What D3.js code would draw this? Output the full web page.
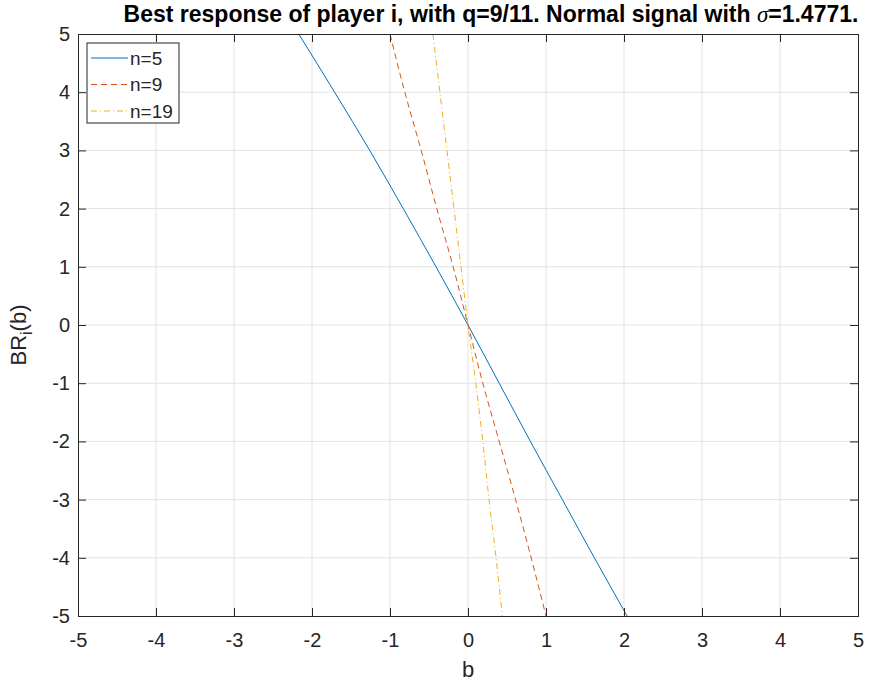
<!DOCTYPE html>
<html>
<head>
<meta charset="utf-8">
<script src="https://cdn.jsdelivr.net/npm/d3@7"></script>
<style>
  body { margin: 0; background: #fff; }
  text { font-family: "Liberation Sans", Arial, sans-serif; fill: #262626; }
</style>
</head>
<body>
<svg id="chart"></svg>
<script>
// Best response curves: BR level -> b position
const brLevels = [5, 4, 3, 2, 1, 0, -1, -2, -3, -4, -5];
const bN5  = [-2.17, -1.71, -1.26, -0.83, -0.41, 0, 0.40, 0.80, 1.21, 1.62, 2.04];
const bN9  = [-1.00, -0.81, -0.60, -0.40, -0.19, 0, 0.19, 0.40, 0.61, 0.81, 1.00];
const bN19 = [-0.45, -0.36, -0.27, -0.18, -0.09, 0, 0.10, 0.19, 0.27, 0.36, 0.44];
const seriesNames = ['n=5', 'n=9', 'n=19'];
const xTicks = [-5, -4, -3, -2, -1, 0, 1, 2, 3, 4, 5];
const yTicks = [-5, -4, -3, -2, -1, 0, 1, 2, 3, 4, 5];

const config = {
  width: 870, height: 682,
  margin: {top: 34, right: 12, bottom: 66, left: 78},
  colors: ['#0072BD', '#D95319', '#EDB120'],
  dashes: [null, '6,4', '6,3,1,3']
};

const series = [bN5, bN9, bN19].map((bs, i) => ({
  name: seriesNames[i],
  values: bs.map((b, j) => ({b: b, br: brLevels[j]}))
}));

const svg = d3.select('#chart')
    .attr('width', config.width)
    .attr('height', config.height);

const w = config.width - config.margin.left - config.margin.right;
const h = config.height - config.margin.top - config.margin.bottom;

const chart = svg.append('g')
    .attr('transform', `translate(${config.margin.left},${config.margin.top})`);

const xScale = d3.scaleLinear().domain([-5, 5]).range([0, w]);
const yScale = d3.scaleLinear().domain([-5, 5]).range([h, 0]);

// grid
chart.append('g').selectAll('line.vg')
  .data(xTicks.slice(1, -1)).join('line')
    .attr('x1', d => xScale(d)).attr('x2', d => xScale(d))
    .attr('y1', 0).attr('y2', h)
    .attr('stroke', '#e3e3e3').attr('stroke-width', 1);
chart.append('g').selectAll('line.hg')
  .data(yTicks.slice(1, -1)).join('line')
    .attr('x1', 0).attr('x2', w)
    .attr('y1', d => yScale(d)).attr('y2', d => yScale(d))
    .attr('stroke', '#e3e3e3').attr('stroke-width', 1);

// curves
const line = d3.line()
    .x(d => xScale(d.b))
    .y(d => yScale(d.br))
    .curve(d3.curveMonotoneY);

chart.append('defs').append('clipPath').attr('id', 'clip')
  .append('rect').attr('width', w).attr('height', h);

chart.append('g').attr('clip-path', 'url(#clip)')
  .selectAll('path.curve')
  .data(series).join('path')
    .attr('class', 'curve')
    .attr('d', d => line(d.values))
    .attr('fill', 'none')
    .attr('stroke', (d, i) => config.colors[i])
    .attr('stroke-width', 1)
    .attr('stroke-dasharray', (d, i) => config.dashes[i]);

// axes with inward ticks, mirrored on top/right
const tickLen = 8;
const fmt = d => String(d);   // plain hyphen minus, like the original
const xAxis = d3.axisBottom(xScale).tickValues(xTicks).tickSize(-tickLen).tickPadding(17).tickFormat(fmt);
const yAxis = d3.axisLeft(yScale).tickValues(yTicks).tickSize(-tickLen).tickPadding(8).tickFormat(fmt);

chart.append('g').attr('transform', `translate(0,${h})`).call(xAxis);
chart.append('g').call(yAxis);
chart.append('g').call(d3.axisTop(xScale).tickValues(xTicks).tickSize(-tickLen).tickFormat(''));
chart.append('g').attr('transform', `translate(${w},0)`)
  .call(d3.axisRight(yScale).tickValues(yTicks).tickSize(-tickLen).tickFormat(''));

chart.selectAll('.domain').attr('stroke', '#262626').attr('stroke-width', 1);
chart.selectAll('.tick line').attr('stroke', '#262626');
chart.selectAll('.tick text')
    .style('font-family', '"Liberation Sans", Arial, sans-serif')
    .style('font-size', '20px')
    .attr('fill', '#262626');

// axis titles
chart.append('text')
    .attr('x', w / 2)
    .attr('y', h + 61)
    .style('text-anchor', 'middle')
    .style('font-size', '22px')
    .text('b');

const ylab = chart.append('text')
    .attr('transform', `translate(-52,${h / 2 + 10}) rotate(-90)`)
    .style('text-anchor', 'middle')
    .style('font-size', '22px');
ylab.append('tspan').text('BR');
ylab.append('tspan').attr('dy', 6).style('font-size', '16px').text('i');
ylab.append('tspan').attr('dy', -6).text('(b)');

// title
const title = svg.append('text')
    .attr('x', 491)
    .attr('y', 22)
    .style('text-anchor', 'middle')
    .style('font-weight', 'bold')
    .style('font-size', '23px');
title.append('tspan').style('fill', '#000').text('Best response of player i, with q=9/11. Normal signal with ');
title.append('tspan').style('fill', '#000').style('font-family', '"Liberation Serif", serif')
  .style('font-style', 'italic').style('font-weight', 'normal').text('σ');
title.append('tspan').style('fill', '#000').text('=1.4771.');

// legend
const legend = chart.append('g').attr('transform', 'translate(9,9)');
legend.append('rect')
    .attr('width', 92).attr('height', 80)
    .attr('fill', '#fff').attr('stroke', '#262626').attr('stroke-width', 1);
const rows = legend.selectAll('g.row').data(series).join('g')
    .attr('transform', (d, i) => `translate(0,${15 + i * 26.5})`);
rows.append('line')
    .attr('x1', 4).attr('x2', 41)
    .attr('stroke', (d, i) => config.colors[i])
    .attr('stroke-width', 1)
    .attr('stroke-dasharray', (d, i) => config.dashes[i]);
rows.append('text')
    .attr('x', 43).attr('dy', '0.35em')
    .style('font-size', '19px')
    .text(d => d.name);
</script>
</body>
</html>
